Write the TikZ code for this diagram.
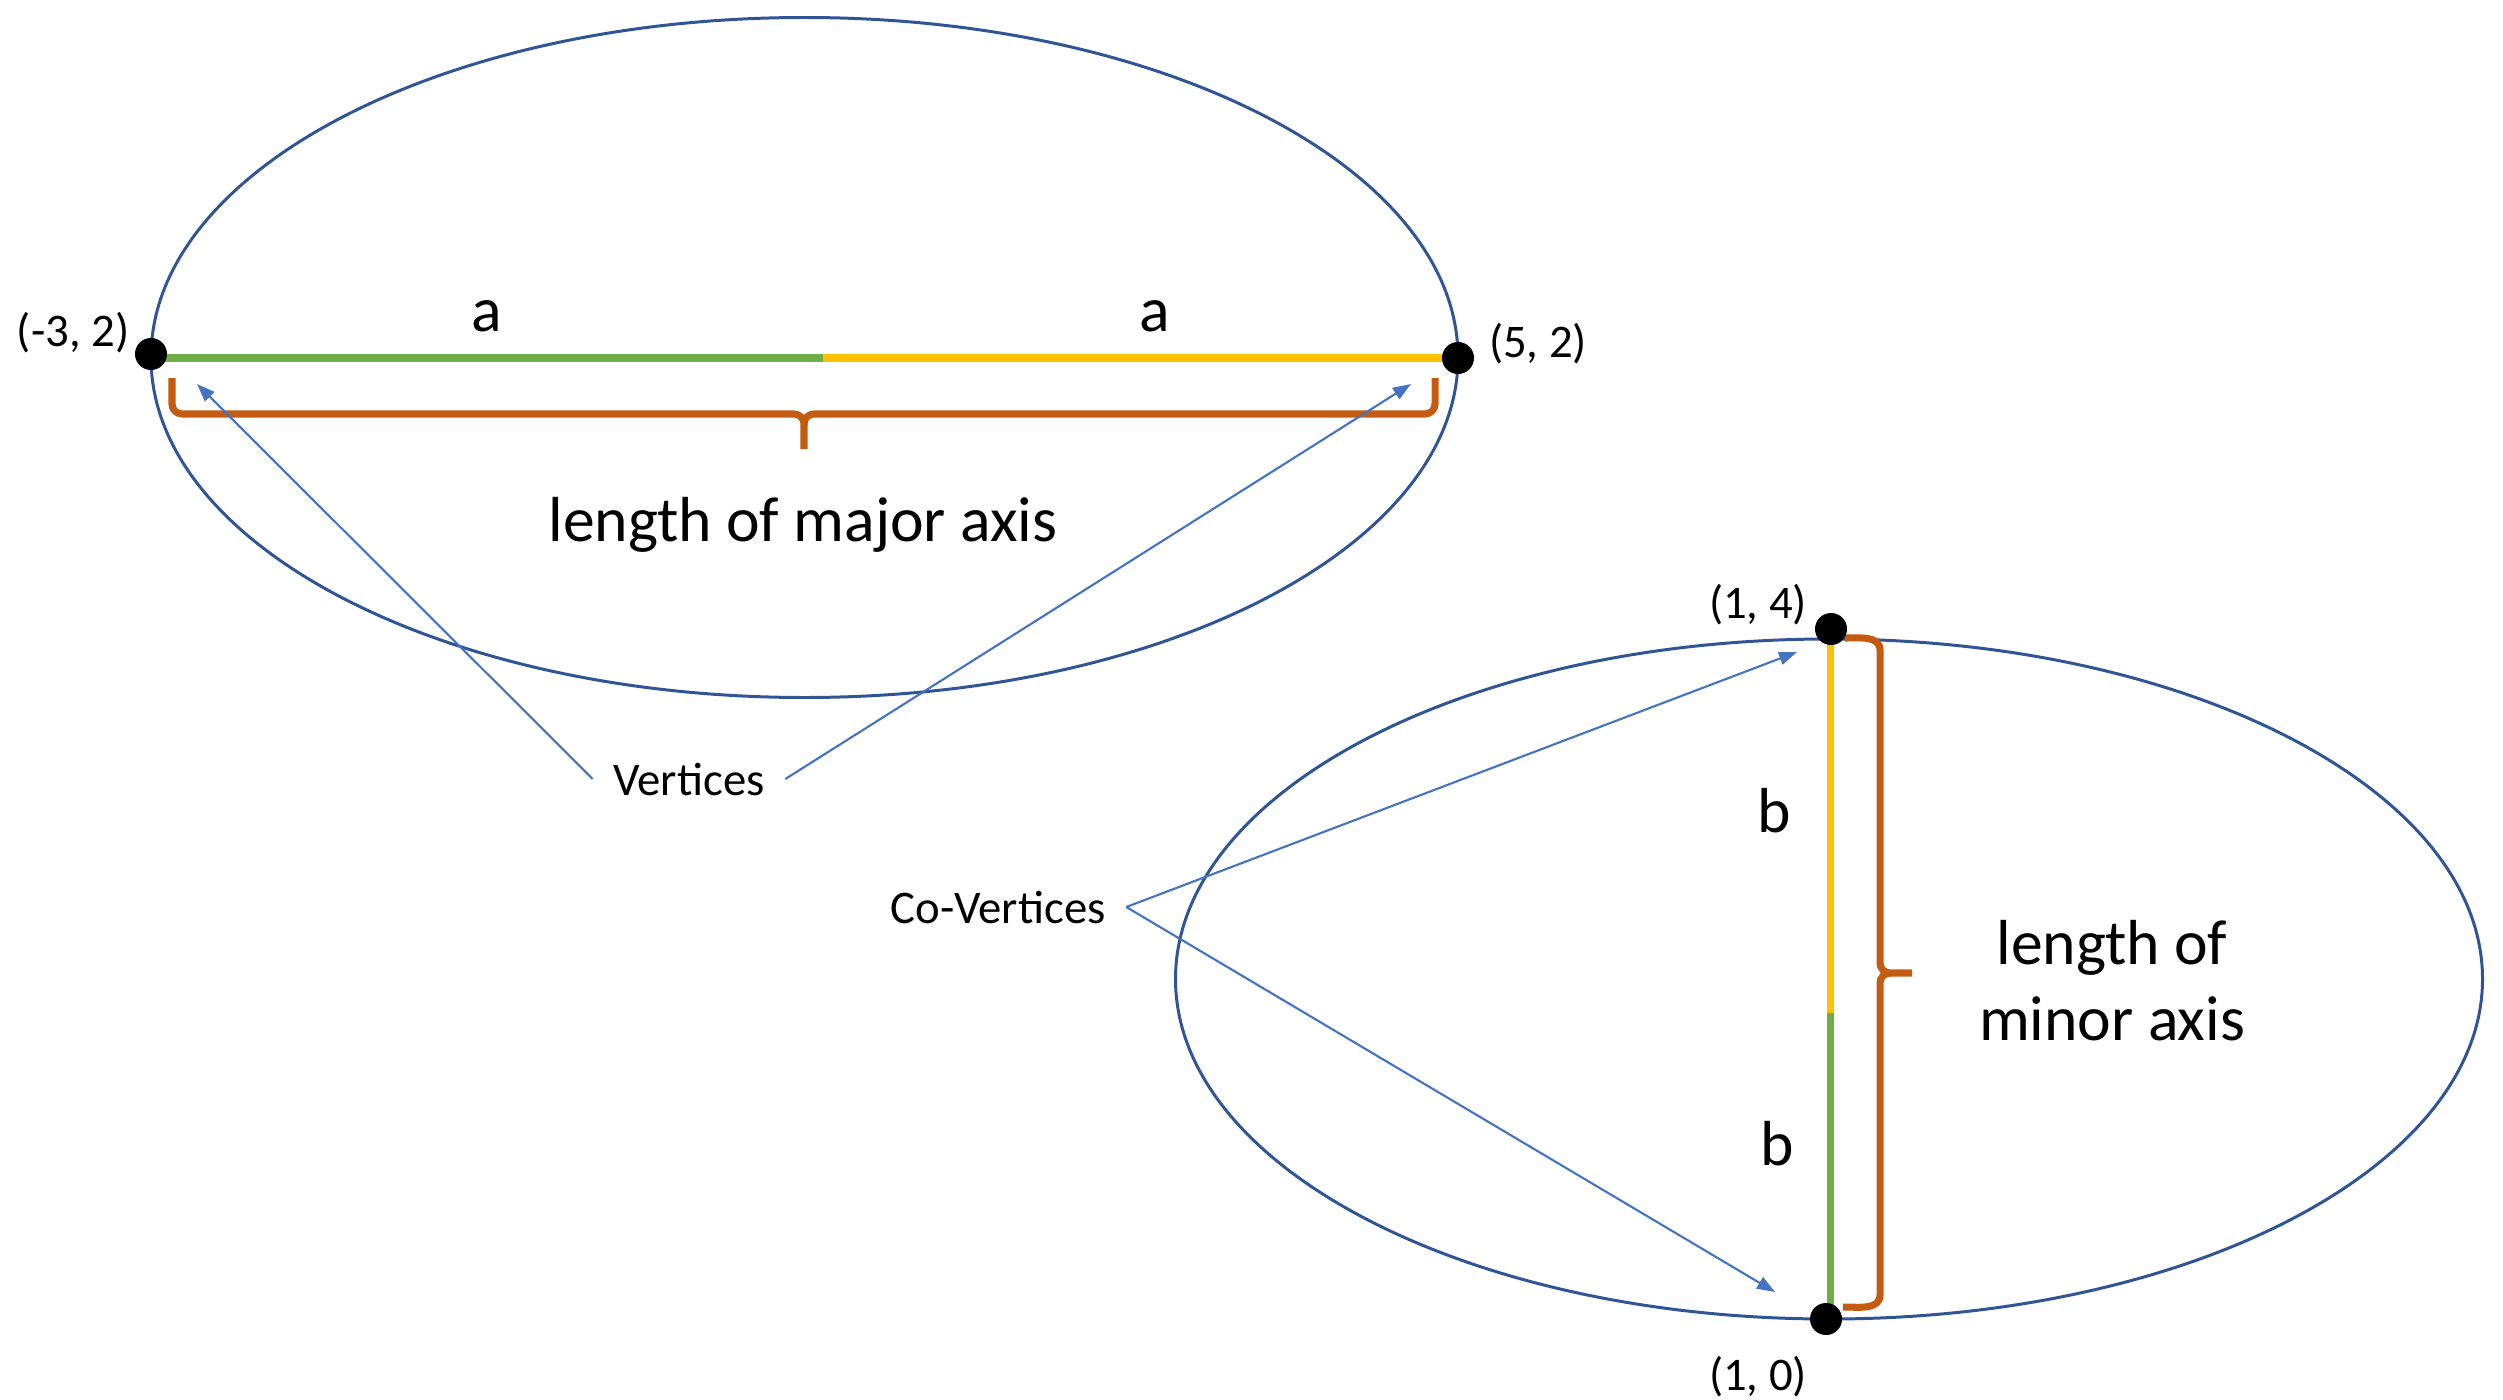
\documentclass[tikz,border=0pt]{standalone}
\usepackage{fontspec}
\setmainfont{Carlito}
\usetikzlibrary{arrows.meta}
\definecolor{ellblue}{HTML}{2F5597}
\definecolor{axgreen}{HTML}{70AD47}
\definecolor{axyellow}{HTML}{FFC000}
\definecolor{braceor}{HTML}{C55A11}
\definecolor{arrblue}{HTML}{4472C4}
\tikzset{
  ell/.style={draw=ellblue, line width=0.85pt},
  greenax/.style={draw=axgreen, line width=2pt},
  yellowax/.style={draw=axyellow, line width=2pt},
  bracepath/.style={draw=braceor, line width=2pt},
  pointer/.style={draw=arrblue, line width=0.6pt, -{Triangle[length=1.8mm, width=1.3mm]}},
  vdot/.style={circle, fill=black, inner sep=0pt, minimum size=0.32cm},
  small/.style={font=\fontsize{13.3}{16}\selectfont, inner sep=0pt},
  big/.style={font=\fontsize{18.1}{21.6}\selectfont, inner sep=0pt},
  callout/.style={font=\fontsize{13.3}{16}\selectfont, inner sep=2mm},
}
\begin{document}
\begin{tikzpicture}[x=0.01cm, y=-0.01cm]
\useasboundingbox (0,0) rectangle (2503,1400);
% ellipses
\draw[ell] (804.5,357.5) ellipse [x radius=653.5, y radius=340];
\draw[ell] (1829,979) ellipse [x radius=653.5, y radius=340];
% major axis
\draw[greenax] (151,358) -- (823,358);
\draw[yellowax] (823,358) -- (1458,358);
% minor axis
\draw[yellowax] (1830,630) -- (1830,1013);
\draw[greenax] (1830,1013) -- (1830,1319);
% major brace
\draw[bracepath] (172,378) -- (172,404) to[out=-90,in=180] (182,414) -- (794,414) to[out=0,in=90] (804,424) -- (804,449);
\draw[bracepath] (1435,378) -- (1435,404) to[out=-90,in=0] (1425,414) -- (814,414) to[out=180,in=90] (804,424);
% minor brace
\draw[bracepath] (1845,638) to[out=0,in=90] (1880,650) -- (1880,963) to[out=-90,in=180] (1890,973) -- (1912,973);
\draw[bracepath] (1843,1307) to[out=0,in=-90] (1880,1295) -- (1880,983) to[out=90,in=180] (1890,973);
% dots
\node[vdot] (v1) at (151,354) {};
\node[vdot] (v2) at (1458,358) {};
\node[vdot] (c1) at (1831,629) {};
\node[vdot] (c2) at (1826,1319) {};
% point labels
\node[small, anchor=base] (lv1) at (73,347) {(-3, 2)};
\node[small, anchor=base] (lv2) at (1538,357) {(5, 2)};
\node[small, anchor=base] (lc1) at (1758,618) {(1, 4)};
\node[small, anchor=base] (lc2) at (1758,1390) {(1, 0)};
% a, b
\node[big, anchor=base] (a1) at (487,331) {a};
\node[big, anchor=base] (a2) at (1155,331) {a};
\node[big, anchor=base] (b1) at (1774,832) {b};
\node[big, anchor=base] (b2) at (1777,1165) {b};
% axis labels
\node[big, anchor=base] (maj) at (803,541) {length of major axis};
\node[big, align=center, anchor=base] (min) at (2112,1040) {length of\\minor axis};
% callouts
\node[callout, anchor=base] (vert) at (689,795) {Vertices};
\node[callout, anchor=base] (cov) at (998,923) {Co-Vertices};
\coordinate (t1) at (197,384);
\coordinate (t2) at (1411,384);
\coordinate (t3) at (1797,652);
\coordinate (t4) at (1775,1292);
\draw[pointer] (vert.west) -- (t1);
\draw[pointer] (vert.east) -- (t2);
\draw[pointer] (cov.east) -- (t3);
\draw[pointer] (cov.east) -- (t4);
\end{tikzpicture}
\end{document}
